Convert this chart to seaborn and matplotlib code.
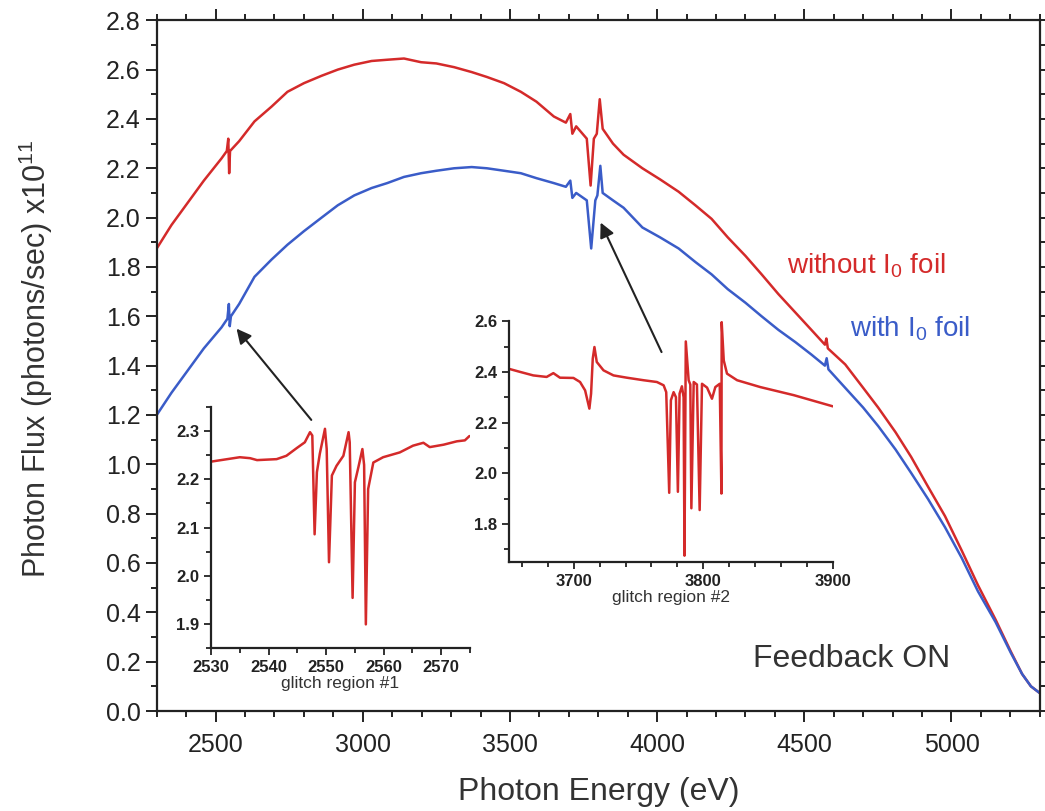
import numpy as np
import pandas as pd
import matplotlib
matplotlib.use("Agg")
import matplotlib.pyplot as plt
from matplotlib.ticker import MultipleLocator
import seaborn as sns

# ---------------- data ----------------
red_E = [2300, 2350, 2405, 2460, 2520, 2538, 2543, 2546, 2549, 2580, 2632, 2690, 2744,
         2800, 2860, 2915, 2971, 3030, 3083, 3140, 3198, 3250, 3310, 3370, 3422, 3480,
         3537, 3590, 3649, 3690, 3705, 3712, 3725, 3761, 3774, 3785, 3795, 3805, 3815,
         3850, 3886, 3950, 4010, 4073, 4130, 4185, 4240, 4300, 4355, 4412, 4470, 4524,
         4570, 4575, 4580, 4639, 4700, 4751, 4810, 4863, 4920, 4978, 5035, 5090, 5150,
         5202, 5240, 5270, 5303]
red_F = [1.875, 1.97, 2.06, 2.15, 2.24, 2.27, 2.32, 2.18, 2.27, 2.31, 2.39, 2.45, 2.51,
         2.545, 2.575, 2.60, 2.62, 2.635, 2.64, 2.645, 2.63, 2.625, 2.61, 2.59, 2.57, 2.545,
         2.51, 2.47, 2.41, 2.385, 2.42, 2.34, 2.37, 2.32, 2.13, 2.32, 2.34, 2.48, 2.36,
         2.30, 2.255, 2.20, 2.155, 2.105, 2.05, 1.995, 1.92, 1.845, 1.77, 1.69, 1.615, 1.545,
         1.485, 1.51, 1.47, 1.405, 1.31, 1.23, 1.13, 1.03, 0.91, 0.79, 0.65, 0.51, 0.37,
         0.24, 0.15, 0.10, 0.07]

blue_E = [2300, 2350, 2405, 2460, 2520, 2540, 2545, 2548, 2552, 2580, 2632, 2690, 2744,
          2800, 2860, 2915, 2971, 3030, 3083, 3140, 3198, 3250, 3310, 3370, 3422, 3480,
          3537, 3590, 3649, 3690, 3705, 3712, 3725, 3761, 3776, 3790, 3797, 3807, 3815,
          3850, 3886, 3950, 4010, 4073, 4130, 4185, 4240, 4300, 4355, 4412, 4470, 4524,
          4570, 4576, 4582, 4639, 4700, 4751, 4810, 4863, 4920, 4978, 5035, 5090, 5150,
          5202, 5240, 5270, 5303]
blue_F = [1.20, 1.29, 1.38, 1.47, 1.555, 1.59, 1.65, 1.56, 1.60, 1.65, 1.76, 1.83, 1.89,
          1.945, 2.00, 2.05, 2.09, 2.12, 2.14, 2.165, 2.18, 2.19, 2.20, 2.205, 2.20, 2.19,
          2.18, 2.16, 2.14, 2.125, 2.15, 2.08, 2.10, 2.07, 1.875, 2.07, 2.09, 2.21, 2.10,
          2.07, 2.04, 1.96, 1.92, 1.875, 1.82, 1.77, 1.71, 1.655, 1.60, 1.545, 1.495, 1.445,
          1.40, 1.43, 1.385, 1.31, 1.23, 1.155, 1.06, 0.965, 0.86, 0.745, 0.62, 0.485, 0.36,
          0.235, 0.15, 0.10, 0.07]

g1_E = [2530.1, 2535, 2536.8, 2538, 2541.4, 2543.1, 2544.9, 2546.3, 2547.2, 2547.6, 2548.0,
        2548.4, 2548.9, 2549.8, 2550.1, 2550.5, 2551.0, 2551.8, 2553.0, 2553.9, 2554.1,
        2554.6, 2555.0, 2555.6, 2556.3, 2556.6, 2556.9, 2557.3, 2558.2, 2559.9, 2562.8,
        2565.1, 2566.9, 2568.0, 2570.4, 2572.7, 2574.1, 2574.9]
g1_F = [2.237, 2.246, 2.244, 2.240, 2.242, 2.249, 2.265, 2.277, 2.298, 2.291, 2.086,
        2.215, 2.253, 2.305, 2.263, 2.028, 2.208, 2.228, 2.249, 2.298, 2.277,
        1.954, 2.194, 2.225, 2.263, 2.230, 1.899, 2.180, 2.235, 2.246, 2.256,
        2.270, 2.276, 2.267, 2.272, 2.279, 2.281, 2.290]

g2_E = [3650, 3658.5, 3668.8, 3679.1, 3684.3, 3689.4, 3699.8, 3704.9, 3708.8, 3712.1, 3713.4,
        3714.7, 3716.0, 3717.8, 3723.0, 3730.7, 3741.0, 3753.9, 3764.2, 3769.4, 3771.4,
        3773.7, 3775.0, 3777.1, 3778.9, 3780.4, 3781.7, 3783.5, 3784.8, 3785.5, 3786.5,
        3788.7, 3790.0, 3790.8, 3792.6, 3795.1, 3797.2, 3799.0, 3802.9, 3806.7, 3809.3,
        3812.7, 3814.0, 3814.2, 3815.8, 3818.3, 3826.1, 3844.0, 3869.9, 3900.0]
g2_F = [2.412, 2.400, 2.386, 2.380, 2.395, 2.377, 2.376, 2.360, 2.327, 2.255, 2.314,
        2.452, 2.498, 2.439, 2.406, 2.386, 2.377, 2.367, 2.360, 2.347, 2.320,
        1.923, 2.288, 2.320, 2.300, 1.927, 2.314, 2.343, 2.300, 1.675, 2.520,
        2.367, 2.350, 1.862, 2.360, 2.350, 1.855, 2.353, 2.338, 2.294, 2.340,
        2.353, 1.920, 2.596, 2.445, 2.393, 2.367, 2.340, 2.308, 2.264]

label_red = "without I$_0$ foil"
label_blue = "with I$_0$ foil"
note_text = "Feedback ON"
xlabel = "Photon Energy (eV)"
ylabel = "Photon Flux (photons/sec) x10$^{11}$"
inset1_label = "glitch region #1"
inset2_label = "glitch region #2"

RED = "#d42a2a"
BLUE = "#3a5cc8"

# ---------------- style ----------------
sns.set_theme(style="ticks")
plt.rcParams["font.family"] = ["Liberation Sans", "DejaVu Sans"]
plt.rcParams["mathtext.fontset"] = "custom"
plt.rcParams["mathtext.rm"] = "Liberation Sans"
plt.rcParams["mathtext.it"] = "Liberation Sans:italic"
plt.rcParams["mathtext.default"] = "regular"

fig = plt.figure(figsize=(10.45, 8.11), dpi=100)
fig.patch.set_facecolor("white")

ax = fig.add_axes([0.150, 0.1233, 0.845, 0.8517])
main_red = pd.DataFrame({"E": red_E, "F": red_F})
main_blue = pd.DataFrame({"E": blue_E, "F": blue_F})
sns.lineplot(data=main_red, x="E", y="F", ax=ax, color=RED, lw=1.8, sort=False, estimator=None)
sns.lineplot(data=main_blue, x="E", y="F", ax=ax, color=BLUE, lw=1.8, sort=False, estimator=None)
ax.set_xlim(2300, 5300)
ax.set_ylim(0.0, 2.8)
ax.xaxis.set_major_locator(MultipleLocator(500))
ax.xaxis.set_minor_locator(MultipleLocator(100))
ax.yaxis.set_major_locator(MultipleLocator(0.2))
ax.yaxis.set_minor_locator(MultipleLocator(0.1))
ax.yaxis.set_major_formatter(matplotlib.ticker.FormatStrFormatter("%.1f"))
ax.tick_params(which="both", direction="out", top=True, right=True, width=1.4,
               colors="#222222", labelsize=18)
ax.tick_params(which="major", length=8)
ax.tick_params(which="minor", length=4.5)
ax.tick_params(axis="x", pad=8)
for s in ax.spines.values():
    s.set_linewidth(1.6)
    s.set_color("#222222")
ax.set_xlabel(xlabel, fontsize=23, color="#333333", labelpad=14)
ax.set_ylabel(ylabel, fontsize=22, color="#333333")
ax.yaxis.set_label_coords(-0.115, 0.51)

ax.text(4440, 1.805, label_red, color=RED, fontsize=20, ha="left", va="center")
ax.text(4655, 1.55, label_blue, color=BLUE, fontsize=20, ha="left", va="center")
ax.text(4327, 0.21, note_text, color="#333333", fontsize=23, ha="left", va="center")

arrow_kw = dict(arrowstyle="-|>", color="#222222", lw=1.5, mutation_scale=22,
                shrinkA=0, shrinkB=0)
ax.annotate("", xy=(2571, 1.55), xytext=(2825, 1.18), arrowprops=arrow_kw)
ax.annotate("", xy=(3808, 1.98), xytext=(4015, 1.455), arrowprops=arrow_kw)


def style_inset(a, xlab):
    a.set_facecolor("none")
    a.spines["top"].set_visible(False)
    a.spines["right"].set_visible(False)
    for s in ("left", "bottom"):
        a.spines[s].set_linewidth(1.6)
        a.spines[s].set_color("#222222")
    a.tick_params(which="both", direction="out", width=1.3, colors="#222222", labelsize=12)
    a.tick_params(which="major", length=5)
    a.tick_params(which="minor", length=3.5)
    for lab in a.get_xticklabels() + a.get_yticklabels():
        lab.set_fontweight("bold")
    a.set_xlabel(xlab, fontsize=12.5, color="#333333", labelpad=1)
    a.set_ylabel("")


# inset 1
ax1 = fig.add_axes([0.2019, 0.201, 0.2479, 0.297])
sns.lineplot(x=g1_E, y=g1_F, ax=ax1, color=RED, lw=1.8, sort=False, estimator=None)
ax1.set_xlim(2530, 2575)
ax1.set_ylim(1.85, 2.35)
ax1.xaxis.set_major_locator(MultipleLocator(10))
ax1.xaxis.set_minor_locator(MultipleLocator(5))
ax1.yaxis.set_major_locator(MultipleLocator(0.1))
ax1.yaxis.set_minor_locator(MultipleLocator(0.05))
ax1.yaxis.set_major_formatter(matplotlib.ticker.FormatStrFormatter("%.1f"))
style_inset(ax1, inset1_label)

# inset 2
ax2 = fig.add_axes([0.487, 0.307, 0.310, 0.297])
sns.lineplot(x=g2_E, y=g2_F, ax=ax2, color=RED, lw=1.8, sort=False, estimator=None)
ax2.set_xlim(3650, 3900)
ax2.set_ylim(1.65, 2.6)
ax2.xaxis.set_major_locator(MultipleLocator(100))
ax2.xaxis.set_minor_locator(MultipleLocator(20))
ax2.yaxis.set_major_locator(MultipleLocator(0.2))
ax2.yaxis.set_minor_locator(MultipleLocator(0.1))
ax2.yaxis.set_major_formatter(matplotlib.ticker.FormatStrFormatter("%.1f"))
style_inset(ax2, inset2_label)

fig.savefig("out.png", dpi=100, facecolor="white")
